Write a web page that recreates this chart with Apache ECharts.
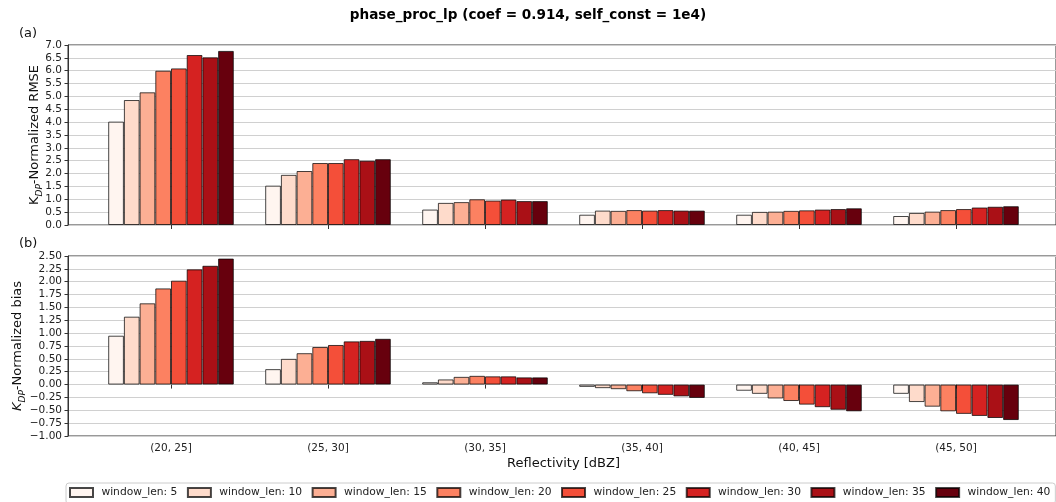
<!DOCTYPE html>
<html>
<head>
<meta charset="utf-8">
<script src="https://cdn.jsdelivr.net/npm/echarts@6/dist/echarts.min.js"></script>
<style>
  html, body { margin: 0; padding: 0; background: #ffffff; }
  #chart { width: 1056px; height: 502px; }
</style>
</head>
<body>
<div id="chart"></div>
<script>
// Reflectivity bins (x categories)
const categories = ['(20, 25]', '(25, 30]', '(30, 35]', '(35, 40]', '(40, 45]', '(45, 50]'];
const windowLens = [5, 10, 15, 20, 25, 30, 35, 40];

// K_DP-normalized RMSE, one array per window length
const rmseW5  = [4.02, 1.53, 0.60, 0.40, 0.40, 0.35];
const rmseW10 = [4.86, 1.95, 0.86, 0.56, 0.51, 0.47];
const rmseW15 = [5.16, 2.10, 0.89, 0.55, 0.52, 0.52];
const rmseW20 = [6.00, 2.41, 1.00, 0.58, 0.55, 0.58];
const rmseW25 = [6.09, 2.41, 0.95, 0.56, 0.57, 0.62];
const rmseW30 = [6.61, 2.56, 0.99, 0.58, 0.60, 0.68];
const rmseW35 = [6.52, 2.50, 0.93, 0.56, 0.62, 0.71];
const rmseW40 = [6.77, 2.56, 0.93, 0.56, 0.65, 0.73];

// K_DP-normalized bias, one array per window length
const biasW5  = [0.95, 0.30, 0.045, -0.045, -0.12, -0.18];
const biasW10 = [1.32, 0.50, 0.10, -0.07, -0.18, -0.34];
const biasW15 = [1.58, 0.61, 0.15, -0.09, -0.27, -0.43];
const biasW20 = [1.87, 0.73, 0.17, -0.13, -0.32, -0.52];
const biasW25 = [2.02, 0.77, 0.16, -0.17, -0.39, -0.57];
const biasW30 = [2.24, 0.84, 0.16, -0.20, -0.44, -0.61];
const biasW35 = [2.31, 0.85, 0.14, -0.23, -0.49, -0.65];
const biasW40 = [2.45, 0.89, 0.14, -0.26, -0.52, -0.69];

// Y axis ranges and tick steps
const rmseRange = [0, 7.0, 0.5];
const biasRange = [-1.0, 2.5, 0.25];

const rmseSeries = [rmseW5, rmseW10, rmseW15, rmseW20, rmseW25, rmseW30, rmseW35, rmseW40];
const biasSeries = [biasW5, biasW10, biasW15, biasW20, biasW25, biasW30, biasW35, biasW40];

// Sequential "Reds" palette, light to dark
const reds = ['#fff5f0', '#fedbcb', '#fcaf94', '#fc8161', '#f44f39', '#d52221', '#aa1016', '#67000d'];

const FONT = 'DejaVu Sans';
const TICK_SIZE = 10.5;
const LABEL_SIZE = 13;
const EDGE = 'rgba(0,0,0,0.72)';

const chart = echarts.init(document.getElementById('chart'), null, { renderer: 'canvas' });

// Each panel: a frame grid (box, y ticks, gridlines) and a bar grid (bars, category ticks)
const frameLeft = 68, frameWidth = 990;
const barLeft = 92.5, barWidth = 942;
const panels = [{ top: 45, height: 180 }, { top: 256, height: 180 }];

const grids = [];
panels.forEach(p => {
  grids.push({ left: frameLeft, top: p.top, width: frameWidth, height: p.height,
               show: true, borderColor: '#333', borderWidth: 1, backgroundColor: 'transparent' });
  grids.push({ left: barLeft, top: p.top, width: barWidth, height: p.height });
});

function nameRich(italicK) {
  return {
    k: { fontFamily: FONT, fontSize: LABEL_SIZE, fontStyle: italicK ? 'italic' : 'normal', color: '#111', lineHeight: 18, verticalAlign: 'middle' },
    s: { fontFamily: FONT, fontSize: 9, fontStyle: 'italic', color: '#111', lineHeight: 9, verticalAlign: 'bottom' },
    t: { fontFamily: FONT, fontSize: LABEL_SIZE, color: '#111', lineHeight: 18, verticalAlign: 'middle' }
  };
}

function fmt(v, d) {
  const s = Math.abs(v).toFixed(d);
  return (v < -1e-9 ? '\u2212' : '') + s;
}

const xAxes = [], yAxes = [];
[rmseRange, biasRange].forEach((rng, i) => {
  const frameIdx = i * 2, barIdx = i * 2 + 1;
  const decimals = i === 0 ? 1 : 2;
  // frame grid axes
  xAxes.push({ gridIndex: frameIdx, type: 'value', min: 0, max: 1, show: false });
  yAxes.push({
    gridIndex: frameIdx, type: 'value', min: rng[0], max: rng[1], interval: rng[2],
    axisLine: { show: true, lineStyle: { color: '#333', width: 1 } },
    axisTick: { show: true, length: 3.5, lineStyle: { color: '#333' } },
    axisLabel: { fontFamily: FONT, fontSize: TICK_SIZE, color: '#222', margin: 6,
                 formatter: v => fmt(v, decimals) },
    splitLine: { show: true, lineStyle: { color: '#d0d0d0', width: 1 } },
    name: i === 0 ? '{k|K}{s|DP}{t|-Normalized RMSE}' : '{k|K}{s|DP}{t|-Normalized bias}',
    nameLocation: 'middle', nameRotate: 90, nameGap: i === 0 ? 24 : 41,
    nameMoveOverlap: false,
    nameTextStyle: { rich: nameRich(i === 1) }
  });
  // bar grid axes
  xAxes.push({
    gridIndex: barIdx, type: 'category', data: categories,
    axisLine: { show: false },
    axisTick: { show: true, alignWithLabel: true, length: 4, lineStyle: { color: '#333' } },
    axisLabel: { show: i === 1, fontFamily: FONT, fontSize: TICK_SIZE, color: '#222', margin: 7 },
    name: i === 1 ? 'Reflectivity [dBZ]' : '',
    nameLocation: 'middle', nameGap: 21, nameMoveOverlap: false,
    nameTextStyle: { fontFamily: FONT, fontSize: LABEL_SIZE, color: '#111' }
  });
  yAxes.push({ gridIndex: barIdx, type: 'value', min: rng[0], max: rng[1], interval: rng[2], show: false });
});

const series = [];
[rmseSeries, biasSeries].forEach((set, i) => {
  set.forEach((vals, j) => {
    series.push({
      type: 'bar',
      name: 'window_len: ' + windowLens[j],
      xAxisIndex: i * 2 + 1, yAxisIndex: i * 2 + 1,
      data: vals,
      barGap: '0%', barCategoryGap: '20%',
      itemStyle: { color: reds[j], borderColor: EDGE, borderWidth: 1 },
      emphasis: { disabled: true }
    });
  });
});

chart.setOption({
  animation: false,
  backgroundColor: '#ffffff',
  title: [
    { text: 'phase_proc_lp (coef = 0.914, self_const = 1e4)', left: 'center', top: 3,
      textStyle: { fontFamily: FONT, fontSize: 13.6, fontWeight: 'bold', color: '#000' } },
    { text: '(a)', left: 14, top: 22, textStyle: { fontFamily: FONT, fontSize: LABEL_SIZE, fontWeight: 'normal', color: '#111' } },
    { text: '(b)', left: 14, top: 232, textStyle: { fontFamily: FONT, fontSize: LABEL_SIZE, fontWeight: 'normal', color: '#111' } }
  ],
  legend: {
    data: windowLens.map(w => 'window_len: ' + w),
    left: 66, top: 483, width: 1000, orient: 'horizontal',
    icon: 'rect', itemWidth: 23, itemHeight: 9, itemGap: 9.5,
    padding: [4, 5, 6, 3],
    borderColor: '#cccccc', borderWidth: 1, borderRadius: 3,
    formatter: n => ' ' + n,
    textStyle: { fontFamily: FONT, fontSize: 10.7, color: '#222' },
    selectedMode: false
  },
  grid: grids,
  xAxis: xAxes,
  yAxis: yAxes,
  series: series
});
</script>
</body>
</html>
